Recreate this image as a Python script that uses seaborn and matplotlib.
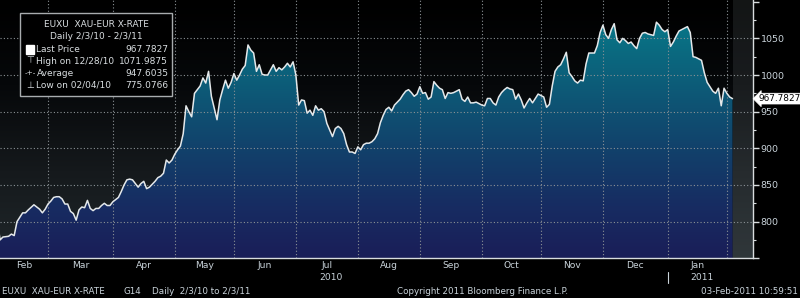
import numpy as np
import pandas as pd
import matplotlib
matplotlib.use("Agg")
import matplotlib.pyplot as plt
import seaborn as sns
from matplotlib.colors import LinearSegmentedColormap
from matplotlib.patches import Polygon, Rectangle
import matplotlib.transforms as mtransforms

# ---------------- data ----------------
dates = [
    "2010-02-03", "2010-02-04", "2010-02-05", "2010-02-09", "2010-02-10", "2010-02-11", "2010-02-12",
    "2010-02-15", "2010-02-16", "2010-02-17", "2010-02-18", "2010-02-22", "2010-02-23", "2010-02-24",
    "2010-02-25", "2010-02-26",
    "2010-03-01", "2010-03-02", "2010-03-03", "2010-03-04", "2010-03-05", "2010-03-08", "2010-03-09",
    "2010-03-10", "2010-03-11", "2010-03-12", "2010-03-15", "2010-03-16", "2010-03-17", "2010-03-18",
    "2010-03-19", "2010-03-22", "2010-03-23", "2010-03-24", "2010-03-25", "2010-03-26", "2010-03-29",
    "2010-03-30", "2010-03-31",
    "2010-04-01", "2010-04-02", "2010-04-05", "2010-04-06", "2010-04-07", "2010-04-08", "2010-04-09",
    "2010-04-12", "2010-04-13", "2010-04-14", "2010-04-15", "2010-04-16", "2010-04-19", "2010-04-20",
    "2010-04-21", "2010-04-22", "2010-04-23", "2010-04-26", "2010-04-27", "2010-04-28", "2010-04-29",
    "2010-04-30",
    "2010-05-03", "2010-05-04", "2010-05-05", "2010-05-06", "2010-05-07", "2010-05-10", "2010-05-11",
    "2010-05-12", "2010-05-13", "2010-05-14", "2010-05-17", "2010-05-18", "2010-05-19", "2010-05-20",
    "2010-05-21", "2010-05-24", "2010-05-25", "2010-05-26", "2010-05-27", "2010-05-28", "2010-05-31",
    "2010-06-01", "2010-06-02", "2010-06-03", "2010-06-04", "2010-06-07", "2010-06-08", "2010-06-09",
    "2010-06-10", "2010-06-11", "2010-06-14", "2010-06-15", "2010-06-16", "2010-06-17", "2010-06-18",
    "2010-06-21", "2010-06-22", "2010-06-23", "2010-06-24", "2010-06-25", "2010-06-28", "2010-06-29",
    "2010-06-30",
    "2010-07-01", "2010-07-02", "2010-07-05", "2010-07-06", "2010-07-07", "2010-07-08", "2010-07-09",
    "2010-07-12", "2010-07-13", "2010-07-14", "2010-07-15", "2010-07-16", "2010-07-19", "2010-07-20",
    "2010-07-21", "2010-07-22", "2010-07-23", "2010-07-26", "2010-07-27", "2010-07-28", "2010-07-29",
    "2010-07-30",
    "2010-08-02", "2010-08-03", "2010-08-04", "2010-08-05", "2010-08-06", "2010-08-09", "2010-08-10",
    "2010-08-11", "2010-08-12", "2010-08-13", "2010-08-16", "2010-08-17", "2010-08-18", "2010-08-19",
    "2010-08-20", "2010-08-23", "2010-08-24", "2010-08-25", "2010-08-26", "2010-08-27", "2010-08-30",
    "2010-08-31",
    "2010-09-01", "2010-09-02", "2010-09-03", "2010-09-06", "2010-09-07", "2010-09-08", "2010-09-09",
    "2010-09-10", "2010-09-13", "2010-09-14", "2010-09-15", "2010-09-16", "2010-09-17", "2010-09-20",
    "2010-09-21", "2010-09-22", "2010-09-23", "2010-09-24", "2010-09-27", "2010-09-28", "2010-09-29",
    "2010-09-30",
    "2010-10-01", "2010-10-04", "2010-10-05", "2010-10-06", "2010-10-07", "2010-10-08", "2010-10-11",
    "2010-10-12", "2010-10-13", "2010-10-14", "2010-10-15", "2010-10-18", "2010-10-19", "2010-10-20",
    "2010-10-21", "2010-10-22", "2010-10-25", "2010-10-26", "2010-10-27", "2010-10-28", "2010-10-29",
    "2010-11-01", "2010-11-02", "2010-11-03", "2010-11-04", "2010-11-05", "2010-11-08", "2010-11-09",
    "2010-11-10", "2010-11-11", "2010-11-12", "2010-11-15", "2010-11-16", "2010-11-17", "2010-11-18",
    "2010-11-19", "2010-11-22", "2010-11-23", "2010-11-24", "2010-11-25", "2010-11-26", "2010-11-29",
    "2010-11-30",
    "2010-12-01", "2010-12-02", "2010-12-03", "2010-12-06", "2010-12-07", "2010-12-08", "2010-12-09",
    "2010-12-10", "2010-12-13", "2010-12-14", "2010-12-15", "2010-12-16", "2010-12-17", "2010-12-20",
    "2010-12-21", "2010-12-22", "2010-12-23", "2010-12-24", "2010-12-27", "2010-12-28", "2010-12-29",
    "2010-12-30", "2010-12-31",
    "2011-01-03", "2011-01-04", "2011-01-05", "2011-01-06", "2011-01-07", "2011-01-10", "2011-01-11",
    "2011-01-12", "2011-01-13", "2011-01-14", "2011-01-17", "2011-01-18", "2011-01-19", "2011-01-20",
    "2011-01-21", "2011-01-24", "2011-01-25", "2011-01-26", "2011-01-27", "2011-01-28", "2011-01-31",
    "2011-02-01", "2011-02-02", "2011-02-03",
]
values = [
    800, 775.1, 779, 780, 783, 781, 800, 806, 812, 812, 816, 823, 820, 817, 812, 817,
    824, 828, 833, 834, 834, 831, 824, 824, 814, 811, 802, 816, 820, 819, 829, 818, 815, 818, 818,
    822, 825, 822, 822,
    827, 830, 833, 841, 850, 857, 858, 857, 852, 847, 852, 855, 845, 847, 851, 855, 860, 862, 866,
    884, 880, 884,
    892, 898, 903, 920, 958, 950, 943, 975, 980, 985, 996, 989, 1005, 971, 955, 939, 966, 980, 993,
    982, 990,
    1002, 993, 1000, 1008, 1013, 1041, 1034, 1030, 1005, 1014, 1001, 1000, 1000, 1007, 1014, 1005,
    1010, 1007, 1011, 1016, 1011, 1018,
    1000, 959, 966, 965, 948, 952, 945, 958, 952, 954, 950, 934, 925, 916, 927, 930, 927, 920, 905,
    895, 895, 893,
    902, 898, 905, 907, 907, 909, 913, 920, 935, 945, 953, 956, 951, 959, 963, 967, 973, 978, 980,
    976, 971, 974,
    984, 975, 976, 967, 970, 991, 986, 982, 980, 968, 976, 975, 976, 978, 980, 967, 964, 970, 962,
    962, 963, 961,
    959, 958, 968, 968, 962, 959, 970, 976, 980, 983, 981, 980, 967, 974, 966, 955, 962, 968, 962,
    968, 974,
    972, 970, 956, 960, 985, 1005, 1011, 1014, 1022, 1031, 1003, 998, 992, 989, 993, 992, 1015, 1030,
    1030, 1030, 1040, 1058,
    1068, 1055, 1050, 1062, 1070, 1048, 1044, 1050, 1047, 1043, 1045, 1040, 1036, 1050, 1057, 1058,
    1056, 1055, 1054, 1072, 1068, 1062, 1059,
    1062, 1039, 1045, 1053, 1060, 1062, 1064, 1066, 1058, 1025, 1024, 1022, 1020, 1003, 990, 984,
    978, 975, 982, 958, 982, 975, 970, 967.7827,
]
month_labels = ["Feb", "Mar", "Apr", "May", "Jun", "Jul", "Aug", "Sep", "Oct", "Nov", "Dec", "Jan"]
year_labels = {"Jul": "2010", "Jan": "2011"}
y_ticks = [800, 850, 900, 950, 1000, 1050]
legend_title = ["EUXU  XAU-EUR X-RATE", "Daily 2/3/10 - 2/3/11"]
legend_rows = [("Last Price", "967.7827"), ("High on 12/28/10", "1071.9875"),
               ("Average", "947.6035"), ("Low on 02/04/10", "775.0766")]
last_label = "967.7827"
footer_parts = [("EUXU  XAU-EUR X-RATE", 2), ("G14", 123), ("Daily  2/3/10 to 2/3/11", 152),
                ("Copyright 2011 Bloomberg Finance L.P.", 397)]
footer_right = "03-Feb-2011 10:59:51"

# ---------------- prep ----------------
start = dates[0]
session = np.busday_count(start, np.array(dates, dtype="datetime64[D]"))
df = pd.DataFrame({"session": session, "value": values})

month_firsts = pd.date_range("2010-03-01", "2011-02-01", freq="MS").strftime("%Y-%m-%d").tolist()
month_bounds = np.busday_count(start, np.busday_offset(np.array(month_firsts, dtype="datetime64[D]"), 0, roll="forward"))

sns.set_theme(style="dark")
plt.rcParams["font.family"] = ["DejaVu Sans"]

W, H = 800, 298
fig = plt.figure(figsize=(W / 100, H / 100), dpi=100, facecolor="black")
ax_bottom_px = 258.3
ax_right_px = 752.5
ax = fig.add_axes([0, 1 - ax_bottom_px / H, ax_right_px / W, ax_bottom_px / H])
ax.set_facecolor("black")

x_lo, x_hi = 0.96, 268.1
y_lo, y_hi = 750, 1102.3

# background gradient
bg_cmap = LinearSegmentedColormap.from_list("bg", ["#000000", "#06080a", "#15191c", "#20272a"])
grad = np.linspace(0, 1, 256).reshape(-1, 1)
ax.imshow(grad, extent=[x_lo, x_hi, y_lo, y_hi], origin="upper", aspect="auto",
          cmap=bg_cmap, zorder=0, interpolation="bilinear")

# filled area with gradient
fill_cmap = LinearSegmentedColormap.from_list(
    "fill", ["#06808f", "#0a6a80", "#0e5474", "#123f6a", "#172c62", "#1a1e58"])
im = ax.imshow(grad, extent=[x_lo, x_hi, y_lo, y_hi], origin="upper", aspect="auto",
               cmap=fill_cmap, zorder=1, interpolation="bilinear")
verts = [(df.session.iloc[0], y_lo)] + list(zip(df.session, df.value)) + [(df.session.iloc[-1], y_lo)]
poly = Polygon(verts, closed=True, transform=ax.transData, facecolor="none", edgecolor="none")
ax.add_patch(poly)
im.set_clip_path(poly)

# empty region after the last price
ax.axvspan(df.session.iloc[-1], x_hi, color="#9aa6aa", alpha=0.13, lw=0, zorder=1.5)

# grid
grid_kw = dict(color="#8c9296", lw=0.8, ls=(0, (1, 2)), zorder=2)
for yv in y_ticks:
    ax.axhline(yv, **grid_kw)
for xb in month_bounds:
    ax.axvline(xb, **grid_kw)

# line
sns.lineplot(data=df, x="session", y="value", color="#e4e8ea", lw=1.1, ax=ax, zorder=4)

ax.set_xlim(x_lo, x_hi)
ax.set_ylim(y_lo, y_hi)
ax.grid(False)

# axes styling
for s in ["top", "left"]:
    ax.spines[s].set_visible(False)
for s in ["right", "bottom"]:
    ax.spines[s].set_visible(True)
    ax.spines[s].set_color("#d8dcde")
    ax.spines[s].set_linewidth(1.0)
ax.yaxis.tick_right()
ax.set_yticks([750] + y_ticks + [1100])
ax.set_yticklabels([""] + [str(v) for v in y_ticks] + [""])
ax.set_yticks(np.arange(775, 1100, 50), minor=True)
ax.tick_params(axis="y", which="major", direction="out", length=4, width=1, color="#d8dcde",
               labelcolor="#c9d3da", labelsize=6.8, pad=2)
ax.tick_params(axis="y", which="minor", direction="out", length=2.5, width=0.8, color="#d8dcde", right=True)
ax.set_xticks([])
ax.set_xlabel("")
ax.set_ylabel("")

# month labels
bounds_full = [x_lo] + list(month_bounds)
blend = mtransforms.blended_transform_factory(ax.transData, ax.transAxes)
lab_y = -(266 - ax_bottom_px) / ax_bottom_px
yr_y = -(277 - ax_bottom_px) / ax_bottom_px
for i, m in enumerate(month_labels):
    cx = (bounds_full[i] + bounds_full[i + 1]) / 2
    ax.text(cx, lab_y, m, transform=blend, ha="center", va="center", fontsize=6.6, color="#c9d3da",
            clip_on=False)
    if m in year_labels:
        ax.text(cx + 1.5, yr_y, year_labels[m], transform=blend, ha="center", va="center",
                fontsize=6.6, color="#c9d3da", clip_on=False)
# year separator
sep_x = month_bounds[month_labels.index("Jan") - 1]
ax.plot([sep_x, sep_x], [-(272 - ax_bottom_px) / ax_bottom_px, -(283 - ax_bottom_px) / ax_bottom_px],
        transform=blend, color="#c9d3da", lw=0.8, clip_on=False)

# last price tag
ax.annotate(last_label, xy=(1, values[-1]), xycoords=("axes fraction", "data"),
            xytext=(4.5, 0), textcoords="offset points", ha="left", va="center",
            fontsize=6.4, color="black", annotation_clip=False,
            bbox=dict(boxstyle="larrow,pad=0.1", fc="white", ec="white", lw=0.5))

# legend box
def fy(px):
    return 1 - px / H

def fx(px):
    return px / W

fig.add_artist(Rectangle((fx(20), fy(96)), fx(152), 83 / H, transform=fig.transFigure,
                         fc="black", ec="#a8acae", lw=1.0, zorder=10))
tkw = dict(fontsize=6.5, color="#d8dde0", va="center", zorder=11)
fig.text(fx(96), fy(24.5), legend_title[0], ha="center", **tkw)
fig.text(fx(96), fy(36.5), legend_title[1], ha="center", **tkw)
row_y = [49, 61, 73, 85]
for (lab, val), ry in zip(legend_rows, row_y):
    fig.text(fx(36.5), fy(ry), lab, ha="left", **tkw)
    fig.text(fx(168), fy(ry), val, ha="right", **tkw)
fig.add_artist(Rectangle((fx(26), fy(54)), fx(8), 9 / H, transform=fig.transFigure,
                         fc="white", ec="white", zorder=11))
fig.text(fx(30), fy(61), "\u22a4", ha="center", **tkw)
fig.text(fx(30), fy(73), "-+-", ha="center", fontsize=5.2, color="#d8dde0", va="center", zorder=11)
fig.text(fx(30), fy(85), "\u22a5", ha="center", **tkw)

# footer
fkw = dict(fontsize=6.3, color="#c9d3da", va="center")
for txt, px in footer_parts:
    fig.text(fx(px), fy(291), txt, ha="left", **fkw)
fig.text(fx(798), fy(291), footer_right, ha="right", **fkw)

fig.savefig("out.png", dpi=100, facecolor="black")
